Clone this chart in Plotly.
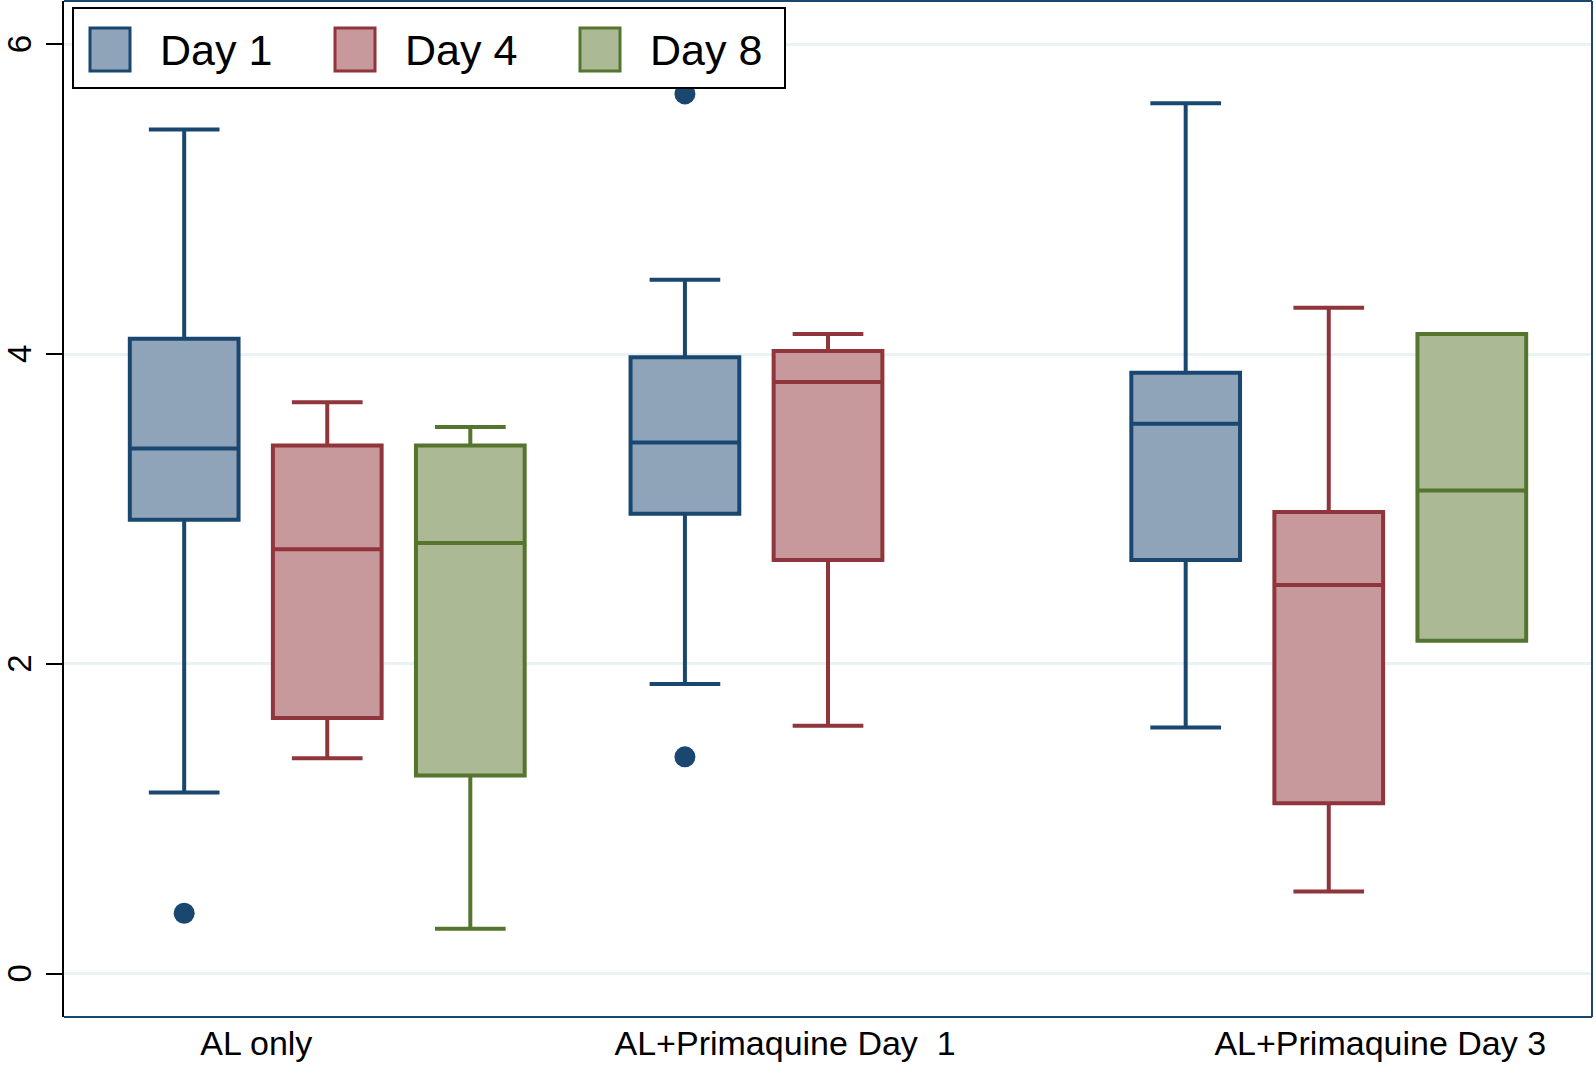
import plotly.graph_objects as go

# ---- data ----
groups = ["AL only", "AL+Primaquine Day  1", "AL+Primaquine Day 3"]
group_label_pos = [0.504, 4.2, 8.36]

day1_x = [0.0, 3.5, 7.0]
day1_low = [1.17, 1.87, 1.59]
day1_q1 = [2.93, 2.97, 2.67]
day1_med = [3.39, 3.43, 3.55]
day1_q3 = [4.10, 3.98, 3.88]
day1_high = [5.45, 4.48, 5.62]

day4_x = [1.0, 4.5, 8.0]
day4_low = [1.39, 1.60, 0.53]
day4_q1 = [1.65, 2.67, 1.10]
day4_med = [2.74, 3.82, 2.51]
day4_q3 = [3.41, 4.02, 2.98]
day4_high = [3.69, 4.13, 4.30]

day8_x = [2.0, 9.0]
day8_low = [0.29, 2.15]
day8_q1 = [1.28, 2.15]
day8_med = [2.78, 3.12]
day8_q3 = [3.41, 4.13]
day8_high = [3.53, 4.13]

outlier_x = [0.0, 3.5, 3.5]
outlier_y = [0.39, 5.68, 1.40]

y_ticks = [0, 2, 4, 6]

# ---- styles ----
navy, maroon, forest = "#1A476F", "#90353B", "#55752F"
navy_f, maroon_f, forest_f = "#8FA4B8", "#C8999C", "#ABBA94"
FONT = "Liberation Sans, Arial, Helvetica, sans-serif"

fig = go.Figure()
series = [
    ("Day 1", day1_x, day1_low, day1_q1, day1_med, day1_q3, day1_high, navy, navy_f),
    ("Day 4", day4_x, day4_low, day4_q1, day4_med, day4_q3, day4_high, maroon, maroon_f),
    ("Day 8", day8_x, day8_low, day8_q1, day8_med, day8_q3, day8_high, forest, forest_f),
]
for name, xs, lo, q1, med, q3, hi, lc, fc in series:
    fig.add_trace(go.Box(
        name=name, x=xs, lowerfence=lo, q1=q1, median=med, q3=q3, upperfence=hi,
        width=0.76, whiskerwidth=0.65, boxpoints=False,
        line=dict(color=lc, width=4), fillcolor=fc, showlegend=False,
    ))

fig.add_trace(go.Scatter(
    x=outlier_x, y=outlier_y, mode="markers",
    marker=dict(color=navy, size=21, line=dict(width=0)), showlegend=False,
))

# ---- geometry in pixels ----
W, H = 1594, 1066
ML, MR, MT, MB = 64, 2, 1, 49
PW, PH = W - ML - MR, H - MT - MB

def px(xp):
    return (xp - ML) / PW

def py(yp):
    return (H - MB - yp) / PH

shapes = []
# plot frame (top, right, bottom) in navy
for x0, y0, x1, y1 in [(0, 1, 1, 1), (1, 0, 1, 1), (0, 0, 1, 0)]:
    shapes.append(dict(type="line", xref="paper", yref="paper", x0=x0, y0=y0, x1=x1, y1=y1,
                       line=dict(color=navy, width=2), layer="above"))

# custom legend
shapes.append(dict(type="rect", xref="paper", yref="paper",
                   x0=px(73), x1=px(785), y0=py(88), y1=py(8),
                   line=dict(color="black", width=2), fillcolor="white", layer="above"))
annotations = []
legend_items = [("Day 1", navy, navy_f, 90, 158), ("Day 4", maroon, maroon_f, 335, 403),
                ("Day 8", forest, forest_f, 580, 648)]
for label, lc, fc, sx, tx in legend_items:
    shapes.append(dict(type="rect", xref="paper", yref="paper",
                       x0=px(sx), x1=px(sx + 40), y0=py(71), y1=py(28),
                       line=dict(color=lc, width=3), fillcolor=fc, layer="above"))
    annotations.append(dict(xref="paper", yref="paper", x=px(tx), y=py(50),
                            text=label, showarrow=False, xanchor="left", yanchor="middle",
                            font=dict(family=FONT, size=43, color="black")))

fig.update_layout(
    width=W, height=H,
    margin=dict(l=ML, r=MR, t=MT, b=MB, autoexpand=False),
    paper_bgcolor="white", plot_bgcolor="white",
    shapes=shapes, annotations=annotations,
    showlegend=False,
    xaxis=dict(range=[-0.84, 9.84], tickvals=group_label_pos, ticktext=groups,
               showgrid=False, zeroline=False, showline=False, automargin=False,
               ticks="", ticklabelstandoff=3,
               tickfont=dict(family=FONT, size=34, color="black")),
    yaxis=dict(range=[-0.28, 6.28], tickvals=y_ticks,
               ticktext=[str(v) + "\u00a0" for v in y_ticks],
               tickangle=-90, showgrid=True, gridcolor="#EAF2F3", gridwidth=3,
               zeroline=False, showline=True, linecolor="black", linewidth=2,
               automargin=False,
               ticks="outside", ticklen=16, tickwidth=2, tickcolor="black",
               ticklabelstandoff=2,
               tickfont=dict(family=FONT, size=33, color="black")),
)

fig.write_html(
    "out.html",
    config={"displayModeBar": False},
    post_script="document.body.style.margin='0';document.body.style.overflow='hidden';",
)
